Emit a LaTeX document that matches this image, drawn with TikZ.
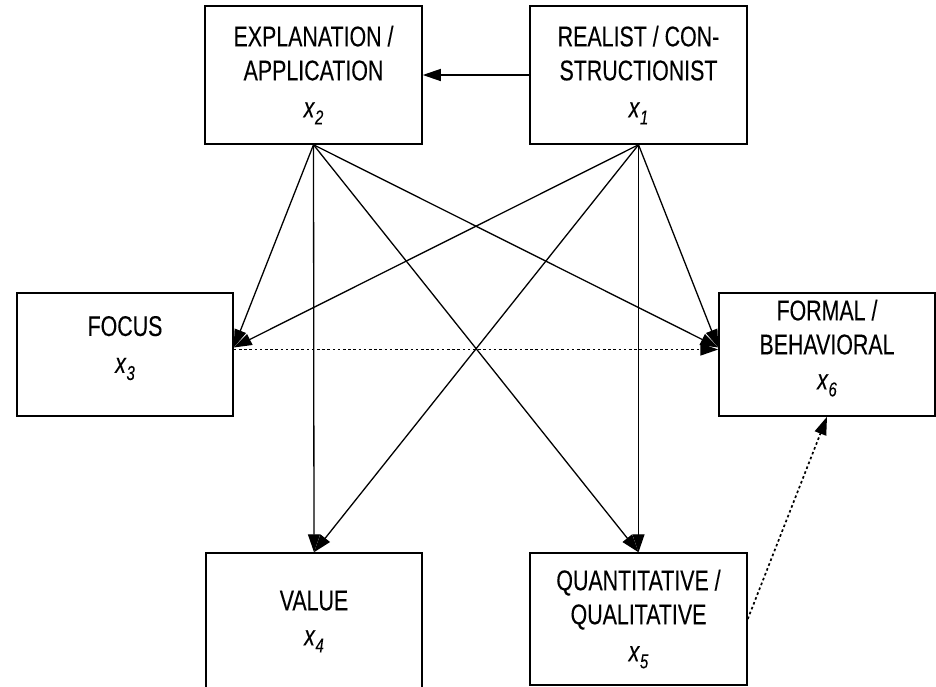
\documentclass[tikz,border=0pt]{standalone}
\usepackage{fontspec}
\setmainfont{Liberation Sans}[FakeStretch=0.75,FakeBold=0.15]
\usetikzlibrary{arrows.meta}
\newcommand{\xvar}[1]{\textit{x}\raisebox{-7pt}{\fontsize{20}{20}\selectfont\textit{#1}}}
\newcommand{\lowstrut}{\rule[-20pt]{0pt}{1pt}}
\begin{document}
\begin{tikzpicture}[x=1pt,y=-1pt,
  box/.style={draw, line width=1.5pt, minimum width=217pt, inner sep=0pt, align=center,
    font=\fontsize{28.5}{34}\selectfont},
  arr/.style={line width=1.3pt, -{Triangle[length=18pt,width=12pt]}},
  dotarr/.style={line width=1.7pt, dash pattern=on 2.6pt off 2.6pt, -{Triangle[length=18pt,width=12pt]}}]
\useasboundingbox (0,0) rectangle (936,686);
\clip (0,0) rectangle (936,686);
\fill[white] (0,0) rectangle (936,686);

\node[box, minimum height=138pt] (x2) at (313.5,75) {EXPLANATION /\\APPLICATION\\[3pt]\xvar{2}};
\node[box, minimum height=138pt] (x1) at (638.5,75) {REALIST / CON-\\STRUCTIONIST\\[3pt]\xvar{1}};
\node[box, minimum height=123pt, minimum width=216pt] (x3) at (125,354.5) {FOCUS\\[3pt]\xvar{3}\lowstrut};
\node[box, minimum height=123pt, minimum width=216pt] (x6) at (827,354.5) {FORMAL /\\BEHAVIORAL\\[1pt]\xvar{6}\lowstrut};
\node[box, minimum height=137pt, minimum width=216pt] (x4) at (314,621.5) {VALUE\\[1pt]\xvar{4}};
\node[box, minimum height=132pt] (x5) at (638.5,619) {QUANTITATIVE /\\QUALITATIVE\\[3pt]\xvar{5}};

\draw[arr] (x1.west) -- (x2.east);
\draw[arr] (x2.south) -- ([yshift=7pt]x3.east);
\draw[arr] (x2.south) -- (x4.north);
\draw[arr] (x2.south) -- (x5.north);
\draw[arr] (x2.south) -- ([yshift=7pt]x6.west);
\draw[arr] (x1.south) -- ([yshift=7pt]x3.east);
\draw[arr] (x1.south) -- (x4.north);
\draw[arr] (x1.south) -- (x5.north);
\draw[arr] (x1.south) -- ([yshift=7pt]x6.west);
\draw[dotarr] ([yshift=5pt]x3.east) -- ([yshift=5pt]x6.west);
\draw[dotarr] (x5.east) -- (x6.south);
\end{tikzpicture}
\end{document}
